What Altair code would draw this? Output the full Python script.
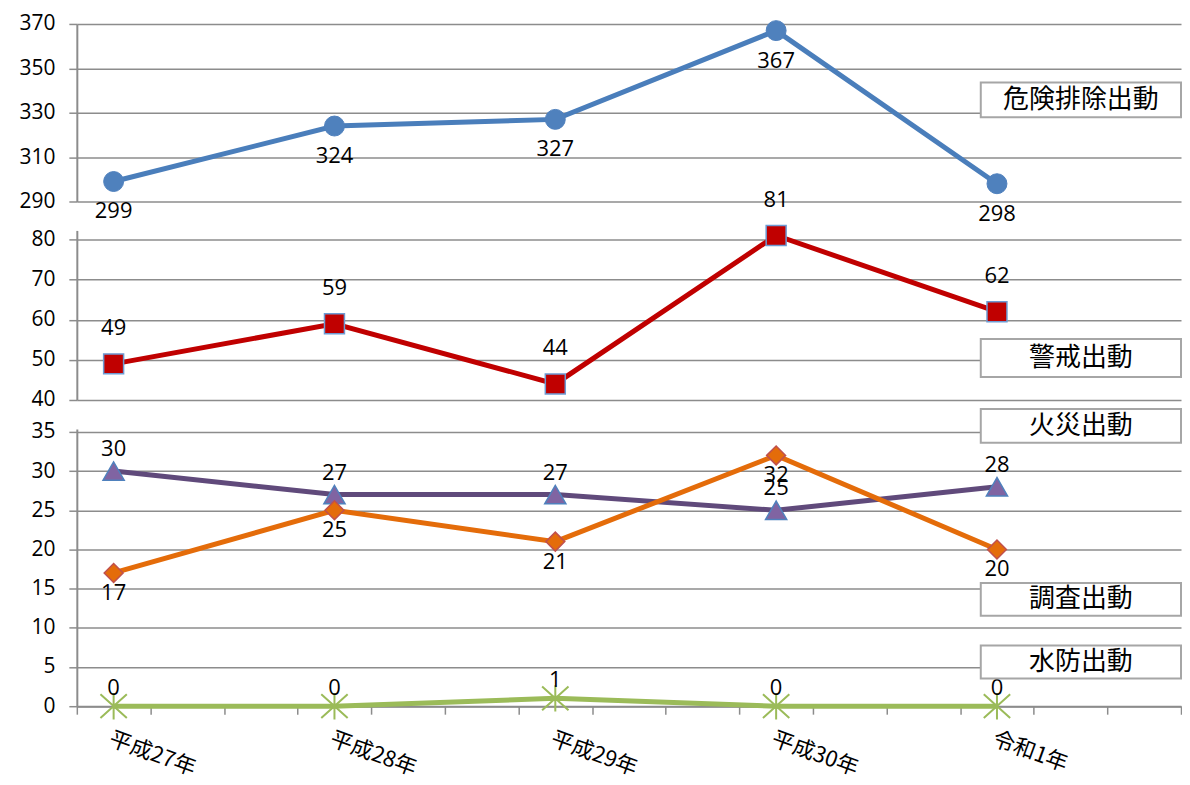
import altair as alt
import pandas as pd

# ---------------- data ----------------
categories = ["平成27年", "平成28年", "平成29年", "平成30年", "令和1年"]
kiken = [299, 324, 327, 367, 298]      # 危険排除出動
keikai = [49, 59, 44, 81, 62]          # 警戒出動
kasai = [30, 27, 27, 25, 28]           # 火災出動
chousa = [17, 25, 21, 32, 20]          # 調査出動
suibou = [0, 0, 1, 0, 0]               # 水防出動
series_names = ["危険排除出動", "警戒出動", "火災出動", "調査出動", "水防出動"]

# ---------------- layout / style ----------------
W = 1107
FONT_JP = "Noto Sans CJK JP"
FONT_NUM = "Open Sans"
GRID = "#8c8c8c"
X_SLOTS = 15                      # date-like axis with 15 intervals
slot = lambda i: 0.5 + 3 * i      # category i sits in the middle of interval 3*i
XSCALE = alt.Scale(domain=[0, X_SLOTS], nice=False, zero=False)
XAX_NONE = alt.Axis(title=None, labels=False, ticks=False, domain=False, grid=False)
XAX_BOT = alt.Axis(values=list(range(0, X_SLOTS + 1)), title=None, grid=False, tickSize=8, labels=False)


def yax(vals):
    return alt.Axis(values=vals, title=None, grid=True, labelPadding=14, tickSize=8)


def frame(values):
    return pd.DataFrame({"cat": categories, "pos": [slot(i) for i in range(len(categories))], "v": values})


def enc(field, P):
    return dict(x=alt.X(f"{field[0]}:Q", scale=XSCALE, axis=P["xax"]),
                y=alt.Y(f"{field[1]}:Q", scale=P["ys"], axis=P["yax"]))


def series_layers(values, color, shape, size, fill, stroke, stroke_w, dy, P, filled=True):
    df = frame(values)
    base = alt.Chart(df).encode(**enc(("pos", "v"), P))
    line = base.mark_line(color=color, strokeWidth=5)
    if filled:
        pts = base.mark_point(shape=shape, size=size, filled=True, fill=fill, stroke=stroke,
                              strokeWidth=stroke_w, opacity=1)
    else:
        pts = base.mark_point(shape=shape, size=size, filled=False, stroke=stroke,
                              strokeWidth=stroke_w, opacity=1)
    txt = base.mark_text(dy=dy, fontSize=22, font=FONT_NUM, color="#000").encode(text="v:Q")
    return [line, pts, txt]


def legend_box(name, x1, x2, y1, y2, P):
    df = pd.DataFrame({"name": [name], "pos": [x1], "x2": [x2], "v": [y1], "y2": [y2],
                       "xm": [(x1 + x2) / 2], "ym": [(y1 + y2) / 2]})
    rect = alt.Chart(df).mark_rect(fill="white", stroke="#a6a6a6", strokeWidth=2).encode(
        **enc(("pos", "v"), P), x2="x2:Q", y2="y2:Q")
    txt = alt.Chart(df).mark_text(fontSize=26, font=FONT_JP, color="#000").encode(
        **enc(("xm", "ym"), P), text="name:N")
    return [rect, txt]


# ---------- top panel : 危険排除出動 ----------
P_top = dict(ys=alt.Scale(domain=[290, 370], nice=False, zero=False),
             xax=XAX_NONE, yax=yax([290, 310, 330, 350, 370]))
top = alt.layer(
    *series_layers(kiken, "#4a7ebb", "circle", 400, "#4f81bd", "#4f81bd", 1, 30, P_top),
    *legend_box(series_names[0], 12.28, 15, 343.6, 328.0, P_top),
).properties(width=W, height=178)

# ---------- middle panel : 警戒出動 ----------
P_mid = dict(ys=alt.Scale(domain=[40, 82.25], nice=False, zero=False),
             xax=XAX_NONE, yax=yax([40, 50, 60, 70, 80]))
mid = alt.layer(
    *series_layers(keikai, "#c00000", "square", 400, "#c00000", "#6d9bd3", 1.5, -36, P_mid),
    *legend_box(series_names[1], 12.28, 15, 55.2, 45.7, P_mid),
).properties(width=W, height=170)

# ---------- bottom panel : 火災 / 調査 / 水防 ----------
P_bot = dict(ys=alt.Scale(domain=[0, 35.38], nice=False, zero=False),
             xax=XAX_BOT, yax=yax([0, 5, 10, 15, 20, 25, 30, 35]))
LABEL_Y = -2.9    # category labels hang ~23px below the zero line (in y units of the bottom panel)
cat_df = pd.DataFrame({"cat": categories, "pos": [slot(i) for i in range(len(categories))],
                       "v": [LABEL_Y] * len(categories)})
cat_labels = alt.Chart(cat_df).mark_text(
    angle=20, align="left", baseline="top", fontSize=22, font=FONT_JP, color="#000"
).encode(**enc(("pos", "v"), P_bot), text="cat:N")

star = "M-1,-0.9L1,0.9M-1,0.9L1,-0.9M0,-1L0,1"
bot = alt.layer(
    *series_layers(kasai, "#604a7b", "triangle-up", 450, "#8064a2", "#4f81bd", 1.5, -22, P_bot),
    *series_layers(chousa, "#e46c0a", "diamond", 360, "#e46c0a", "#c0504d", 1.5, 20, P_bot),
    *series_layers(suibou, "#9bbb59", star, 700, None, "#9bbb59", 2, -18, P_bot, filled=False),
    *legend_box(series_names[2], 12.28, 15, 37.92, 33.6, P_bot),
    *legend_box(series_names[3], 12.28, 15, 15.72, 11.54, P_bot),
    *legend_box(series_names[4], 12.28, 15, 7.74, 3.55, P_bot),
    cat_labels,
).properties(width=W, height=278)

chart = alt.vconcat(top, mid, bot, spacing=29, bounds="flush").properties(
    padding={"left": 10, "top": 4, "right": 0, "bottom": 0}
).configure_view(stroke=None).configure_axis(
    labelFont=FONT_NUM, labelFontSize=21, labelColor="#000",
    domainColor=GRID, domainWidth=2, tickColor=GRID, tickWidth=1.5,
    gridColor=GRID, gridWidth=1.5,
)

chart.save("out.html", embed_options={"renderer": "svg", "actions": False})
